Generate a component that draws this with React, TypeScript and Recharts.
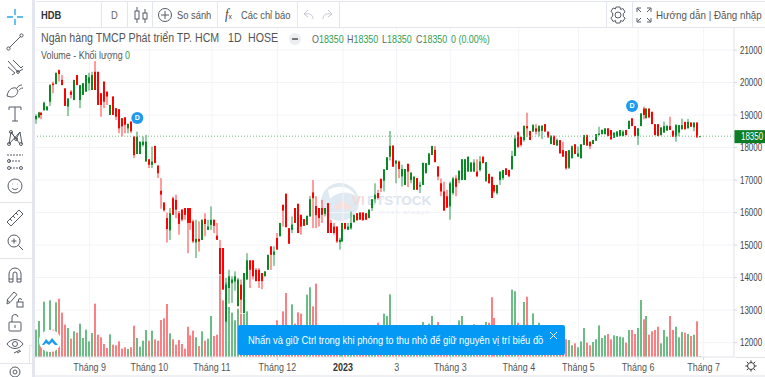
import { Bar, CartesianGrid, ComposedChart, ReferenceDot, ReferenceLine, XAxis, YAxis } from "recharts";

const opens = [
  18870, 18930, 19070, 19150, 19150, 19410, 19970, 19950, 20380, 20080,
  19820, 19260, 19720, 19460, 20230, 19460, 19620, 19720, 19980, 19770,
  20330, 20330, 19670, 20030, 19720, 19000, 19570, 19210, 19180, 18900,
  18930, 18590, 18800, 18340, 17800, 17800, 18080, 17570, 17640, 17470,
  18050, 17440, 16670, 16310, 15830, 15450, 16440, 16390, 15980, 16090,
  16140, 16140, 16140, 15730, 15080, 15190, 15160, 15800, 15470, 15620,
  15780, 15290, 14910, 14910, 12650, 13680, 13830, 13880, 13120, 13780,
  12910, 13940, 14530, 14530, 14240, 14240, 14140, 14040, 14240, 14960,
  14700, 15220, 15270, 16240, 16580, 15520, 15470, 16140, 16270, 15930,
  15800, 15620, 15880, 16620, 16200, 16140, 16140, 15960, 16290, 15680,
  15570, 15570, 15090, 15110, 15680, 15470, 15520, 15700, 15980, 16000,
  16000, 15980, 15830, 16140, 16410, 16600, 17040, 16980, 17310, 17720,
  18060, 17500, 17570, 17110, 16850, 17500, 17000, 16700, 17060, 16800,
  16850, 17210, 17470, 17770, 17930, 17420, 16900, 16650, 16500, 16190,
  16600, 17050, 17000, 17000, 17000, 17260, 17260, 17260, 17260, 17310,
  17720, 16960, 17190, 17100, 16850, 16600, 17000, 17060, 17360, 17310,
  17330, 17740, 18470, 18330, 18230, 18660, 18510, 18490, 18590, 18490,
  18510, 18720, 18490, 18110, 18350, 18060, 18230, 17920, 17890, 17380,
  17670, 18100, 17720, 17670, 18080, 18380, 18180, 18110, 18210, 18380,
  18410, 18410, 18590, 18540, 18300, 18330, 18350, 18350, 18540, 18570,
  18900, 18660, 18350, 18660, 19200, 18900, 19200, 19100, 18720, 18720,
  18380, 18460, 18520, 18660, 18520, 18330, 18460, 18560, 18790, 18590,
  18770, 18620, 18770, 18350,
];
const highs = [
  19020, 19100, 19100, 19410, 19280, 19950, 20030, 20300, 20400, 20230,
  19820, 19510, 19770, 20080, 20230, 19920, 19980, 20230, 20300, 20330,
  20660, 20330, 19670, 20030, 19720, 19310, 19570, 19210, 19180, 18900,
  18930, 18730, 18800, 18340, 18490, 18180, 18340, 18390, 17640, 18030,
  18050, 17470, 17060, 16310, 16000, 16140, 16490, 16550, 16050, 16110,
  16140, 16140, 16140, 15780, 15780, 15730, 15780, 15980, 15780, 16190,
  15780, 15680, 15160, 14910, 13990, 14240, 14040, 14190, 13990, 13940,
  14140, 14750, 14530, 14530, 14290, 14290, 14140, 14190, 14700, 14960,
  14960, 15370, 15680, 16240, 16580, 15520, 15880, 16140, 16270, 15930,
  15800, 15900, 16510, 17000, 16500, 16140, 16390, 16140, 16290, 15780,
  15680, 15570, 15220, 15680, 15680, 15680, 16030, 15930, 15980, 16000,
  16000, 15980, 16090, 16410, 16900, 16700, 17040, 17330, 17700, 18510,
  18060, 17600, 17600, 17470, 17340, 17500, 17230, 17120, 17060, 16950,
  17530, 17520, 17820, 18050, 18050, 17420, 17050, 16950, 16700, 16950,
  17100, 17150, 17290, 17640, 17640, 17720, 17540, 17640, 17640, 17740,
  17720, 17550, 17190, 17100, 16850, 16850, 17260, 17310, 17360, 17310,
  17900, 18380, 18500, 18330, 18670, 19070, 18510, 18720, 18720, 18690,
  18690, 18720, 18490, 18380, 18380, 18280, 18230, 18180, 17890, 17920,
  18060, 18100, 18030, 18100, 18390, 18400, 18180, 18230, 18410, 18640,
  18560, 18590, 18590, 18540, 18460, 18510, 18540, 18540, 18540, 18830,
  18900, 18660, 18600, 19050, 19260, 19200, 19200, 19100, 18720, 18720,
  18620, 18800, 18700, 18950, 18520, 18720, 18690, 18890, 18790, 18880,
  18770, 18770, 18770, 18350,
];
const lows = [
  18730, 18900, 18870, 19130, 19130, 19280, 19670, 19950, 20030, 19920,
  19280, 18970, 19510, 19460, 19920, 19210, 19620, 19720, 19750, 19770,
  19770, 19310, 18950, 19210, 19310, 19000, 19000, 18850, 18440, 18340,
  18440, 18440, 18440, 17670, 17800, 17800, 18030, 17570, 17370, 17370,
  17520, 17060, 16120, 16030, 15080, 15160, 15930, 15830, 15320, 15730,
  15780, 14750, 15470, 15060, 14600, 14800, 15160, 15270, 15470, 15470,
  15370, 15160, 14100, 13630, 12650, 13200, 13220, 13600, 13120, 12910,
  12910, 13940, 13680, 13940, 13890, 13680, 13640, 14040, 14240, 14240,
  14360, 14860, 15270, 15570, 15550, 15040, 15370, 15680, 15370, 15320,
  15590, 15620, 15880, 15520, 15520, 15570, 15680, 15880, 15370, 15370,
  15320, 15060, 14860, 15110, 15490, 15470, 15470, 15700, 15760, 15780,
  15760, 15780, 15830, 16050, 16290, 16400, 16630, 16650, 17310, 17600,
  17410, 16900, 17060, 16800, 16850, 16780, 16900, 16700, 16700, 16600,
  16850, 17210, 17470, 17770, 17550, 17000, 16500, 16050, 16150, 15780,
  16550, 16500, 16900, 17000, 17000, 17260, 17260, 17260, 17110, 17260,
  17520, 16960, 16900, 16450, 16600, 16550, 16850, 17000, 17160, 17110,
  17330, 17740, 17980, 18030, 18180, 18320, 18230, 18490, 18400, 18340,
  18260, 18490, 18310, 18100, 18080, 18060, 17820, 17720, 17320, 17340,
  17670, 17800, 17720, 17670, 18080, 18060, 17950, 18110, 18210, 18380,
  18410, 18410, 18350, 18250, 18300, 18330, 18350, 18350, 18380, 18570,
  18660, 18350, 18080, 18660, 18870, 18900, 18900, 18720, 18380, 18350,
  18380, 18460, 18520, 18540, 18330, 18180, 18350, 18560, 18560, 18590,
  18640, 18500, 18310, 18350,
];
const closes = [
  18970, 19080, 19000, 19380, 19260, 19920, 19920, 20300, 20260, 19920,
  19280, 19510, 19620, 20080, 19920, 19920, 19980, 20230, 20160, 20230,
  19770, 19310, 19310, 19410, 19570, 19310, 19000, 18950, 18590, 18650,
  18700, 18730, 18500, 17770, 18340, 18180, 18180, 18180, 17470, 17570,
  17520, 17210, 16550, 16070, 15490, 15980, 15930, 16090, 15650, 15780,
  15930, 15680, 15680, 15110, 15190, 15110, 15780, 15650, 15570, 15780,
  15590, 15160, 14100, 13630, 13780, 14040, 13940, 14040, 13940, 13320,
  14140, 14530, 14240, 14040, 13890, 13890, 13890, 14190, 14700, 14700,
  14800, 14860, 15680, 16060, 15550, 15040, 15630, 15680, 15370, 15570,
  15590, 15900, 16410, 16440, 15920, 15830, 15930, 16140, 15370, 15370,
  15370, 15110, 15160, 15680, 15490, 15570, 15680, 15930, 15760, 15780,
  15760, 15780, 16090, 16410, 16550, 16450, 16750, 17330, 17700, 18050,
  17410, 17600, 17340, 17340, 17340, 17260, 17230, 17100, 16700, 16850,
  17530, 17520, 17820, 18050, 17550, 17110, 16650, 16060, 16150, 16900,
  17050, 16790, 17290, 17640, 17640, 17720, 17540, 17540, 17110, 17570,
  17520, 17550, 16900, 16450, 16650, 16850, 17260, 17310, 17160, 17110,
  17740, 18280, 18020, 18080, 18670, 18590, 18230, 18690, 18490, 18660,
  18670, 18490, 18310, 18360, 18080, 18230, 17820, 17720, 17360, 17920,
  18040, 17800, 17820, 18100, 18380, 18060, 18040, 18230, 18410, 18430,
  18540, 18590, 18350, 18250, 18460, 18490, 18540, 18490, 18380, 18820,
  18660, 18350, 18590, 19050, 19000, 19200, 18930, 18720, 18380, 18350,
  18620, 18660, 18660, 18540, 18330, 18690, 18690, 18690, 18560, 18790,
  18640, 18770, 18310, 18350,
];
const volumes = [
  82, 108, 55, 166, 60, 170, 82, 164, 175, 133,
  97, 87, 55, 77, 73, 100, 57, 82, 47, 72,
  160, 67, 59, 39, 27, 68, 37, 35, 47, 25,
  29, 24, 29, 94, 57, 31, 49, 81, 49, 79,
  53, 49, 111, 116, 159, 71, 53, 37, 51, 39,
  25, 91, 65, 79, 59, 33, 77, 49, 55, 123,
  63, 67, 245, 170, 223, 150, 133, 110, 145, 130,
  130, 137, 80, 66, 72, 58, 44, 60, 77, 52,
  68, 110, 63, 137, 192, 75, 158, 100, 134, 130,
  85, 187, 209, 152, 220, 88, 70, 55, 62, 45,
  60, 52, 72, 70, 48, 62, 80, 55, 44, 60,
  48, 72, 62, 58, 42, 103, 70, 130, 123, 188,
  66, 50, 42, 71, 64, 52, 47, 38, 54, 60,
  105, 52, 100, 123, 66, 105, 74, 48, 55, 40,
  62, 80, 110, 123, 70, 55, 60, 98, 44, 72,
  58, 105, 103, 179, 117, 64, 48, 60, 75, 56,
  202, 197, 103, 70, 165, 181, 85, 131, 66, 103,
  78, 60, 88, 57, 72, 52, 66, 48, 53, 51,
  35, 41, 29, 47, 87, 43, 35, 45, 53, 95,
  57, 65, 69, 53, 65, 63, 61, 59, 43, 81,
  81, 69, 87, 171, 113, 123, 67, 77, 81, 91,
  41, 81, 61, 123, 81, 91, 59, 75, 73, 69,
  63, 67, 107, 2,
];

const priceTicks = [12000, 13000, 14000, 15000, 16000, 17000, 18000, 19000, 20000, 21000];
const monthTicks = [18, 38, 59, 81, 103, 121, 139, 162, 182, 202, 224];
const monthLabels = ["Tháng 9", "Tháng 10", "Tháng 11", "Tháng 12", "2023", "3", "Tháng 3", "Tháng 4", "Tháng 5", "Tháng 6", "Tháng 7"];
const lastPrice = 18350;
const dividendMarks = [
  { bar: 34, price: 18910 },
  { bar: 200, price: 19280 },
];

const chartData = opens.map((open, i) => ({
  i,
  open,
  close: closes[i],
  range: [lows[i], highs[i]],
  volume: volumes[i],
}));

const FONT = "'Liberation Sans', Arial, sans-serif";
const RED = "#ff0000";
const GREEN = "#0a8a25";
const ICON = "#555b66";
const SQUEEZE = 0.85;

function Candle(props: any) {
  const { x, y, height, payload } = props;
  const [low, high] = payload.range;
  const up = payload.close >= payload.open;
  const perUnit = high === low ? 0 : height / (high - low);
  const top = y + (high - Math.max(payload.open, payload.close)) * perUnit;
  const bodyH = Math.max(1, Math.abs(payload.close - payload.open) * perUnit);
  const left = Math.round(x);
  return (
    <g>
      <rect x={left + 0.5} y={y} width={1} height={Math.max(height, 1)} fill={up ? "#2f9a4c" : "#ff3a3a"} />
      <rect x={left} y={top} width={2} height={bodyH} fill={up ? GREEN : RED} />
    </g>
  );
}

function VolumeBar(props: any) {
  const { x, y, height, payload } = props;
  const up = payload.close >= payload.open;
  return <rect x={Math.round(x)} y={y} width={2} height={height} fill={up ? "#6cbd85" : "#fb8084"} />;
}

function MonthTick(props: any) {
  const { x, y, payload } = props;
  const label = monthLabels[monthTicks.indexOf(payload.value)];
  const isYear = label === "2023";
  return (
    <text
      transform={`translate(${x},${y + 9}) scale(${SQUEEZE},1)`}
      textAnchor="middle"
      fontSize={10.5}
      fontFamily={FONT}
      fontWeight={isYear ? 700 : 400}
      fill={isYear ? "#333" : "#555"}
    >
      {label}
    </text>
  );
}

function PriceTick(props: any) {
  const { x, y, payload } = props;
  return (
    <text transform={`translate(${x},${y + 3.5}) scale(0.76,1)`} fontSize={10.5} fontFamily={FONT} fill="#444">
      {payload.value}
    </text>
  );
}

function PriceTag(props: any) {
  const { viewBox } = props;
  const tagX = viewBox.x + viewBox.width;
  return (
    <g>
      <rect x={tagX} y={viewBox.y - 6} width={31} height={13} fill="#0b7d24" />
      <text transform={`translate(${tagX + 7},${viewBox.y + 4}) scale(0.76,1)`} fontSize={10.5} fontFamily={FONT} fill="#fff">
        {lastPrice}
      </text>
    </g>
  );
}

function Icon({ x, y, children, w = 20, h = 20 }: any) {
  return (
    <svg width={w} height={h} viewBox="0 0 20 20" style={{ position: "absolute", left: x - w / 2, top: y - h / 2 }} fill="none" stroke={ICON} strokeWidth={1}>
      {children}
    </svg>
  );
}

function Label({ x, y, size = 11, color = "#555", weight = 400, children }: any) {
  return (
    <div
      style={{
        position: "absolute",
        left: x,
        top: y,
        fontSize: size,
        color,
        fontWeight: weight,
        whiteSpace: "nowrap",
        lineHeight: "14px",
        transform: `scaleX(${SQUEEZE})`,
        transformOrigin: "left center",
      }}
    >
      {children}
    </div>
  );
}

function Rule({ x, y, w, h }: any) {
  return <div style={{ position: "absolute", left: x, top: y, width: w, height: h, background: "#e3e6ee" }} />;
}

function LeftToolbar() {
  return (
    <>
      <Icon x={15} y={17}>
        <path d="M10 2v6M10 12v6M2 10h6M12 10h6" stroke="#2aa7e8" strokeWidth={1.4} />
      </Icon>
      <Icon x={15} y={42}>
        <path d="M4 16L16 4" />
        <circle cx={3.5} cy={16.5} r={1.6} />
        <circle cx={16.5} cy={3.5} r={1.6} />
      </Icon>
      <Icon x={15} y={67}>
        <path d="M3 4l10 11M3 10l7 6M8 3l8 8M13 15l5-3M10 16l-3 2M16 11l2-2" />
        <circle cx={13} cy={15} r={1.4} />
      </Icon>
      <Icon x={15} y={91}>
        <path d="M2 15c1-6 5-9 9-8l2 3c-1 4-3 6-7 6zM12 7c1-2 3-3 5-3M14 9c1-1 2-2 4-2" />
      </Icon>
      <Icon x={15} y={114}>
        <path d="M4 6V3h12v3M10 3v14M7 17h6" />
      </Icon>
      <Icon x={15} y={138}>
        <path d="M4 16L6 4l5 7 4-7 2 12M6 4l9 12M15 4L4 16" />
        <circle cx={4} cy={16} r={1.5} />
        <circle cx={6} cy={4} r={1.5} />
        <circle cx={11} cy={11} r={1.5} />
        <circle cx={16} cy={16} r={1.5} />
      </Icon>
      <Icon x={15} y={162}>
        <path d="M2 3h16M5 16h10M4 9h12" strokeDasharray="2 1" />
        <circle cx={4} cy={16} r={1.5} />
        <circle cx={16} cy={16} r={1.5} />
        <circle cx={4} cy={9} r={1.5} />
      </Icon>
      <Icon x={15} y={186}>
        <circle cx={10} cy={10} r={7} />
        <path d="M7 12c1.5 2 4.5 2 6 0M7.5 8h.5M12 8h.5" />
      </Icon>
      <Icon x={15} y={218}>
        <path d="M2 14L14 2l4 4L6 18zM5 11l2 2M8 8l2 2M11 5l2 2" />
      </Icon>
      <Icon x={15} y={242}>
        <circle cx={9} cy={9} r={6} />
        <path d="M13.5 13.5L18 18M6.5 9h5M9 6.5v5" />
      </Icon>
      <Icon x={15} y={275}>
        <path d="M4 17V9a6 6 0 0 1 12 0v8h-4V9a2 2 0 0 0-4 0v8zM4 14h4M12 14h4" />
      </Icon>
      <Icon x={15} y={299}>
        <path d="M2 11l7-8 3 2.5-7 8zM5 13.5L2 15l.5-4" />
        <rect x={12} y={13} width={6} height={5} />
        <path d="M13.5 13v-2a1.5 1.5 0 0 1 3 0" />
      </Icon>
      <Icon x={15} y={323}>
        <rect x={4} y={9} width={12} height={9} rx={1} />
        <path d="M7 9V5a3 3 0 0 1 6-1M10 12v3" />
      </Icon>
      <Icon x={15} y={346}>
        <path d="M2 8c4-6 12-6 16 0-4 6-12 6-16 0z" />
        <circle cx={10} cy={8} r={2.5} />
        <path d="M9 17l6-3M12 17l4-2" />
      </Icon>
      <Icon x={15} y={372}>
        <circle cx={10} cy={10} r={5} />
        <circle cx={10} cy={10} r={2} />
      </Icon>
      <div style={{ position: "absolute", left: 29, top: 345, width: 4, height: 17, background: "#fff", border: "1px solid #e3e6ee", borderRadius: "0 3px 3px 0" }} />
    </>
  );
}

function TopToolbar() {
  return (
    <>
      <Label x={41} y={8} size={11} color="#333" weight={700}>HDB</Label>
      <Label x={111} y={8} size={11} color="#666">D</Label>
      <Icon x={141} y={15}>
        <path d="M6 2v16M14 4v14" />
        <rect x={4} y={6} width={4} height={8} fill="#fff" />
        <rect x={12} y={8} width={4} height={6} fill="#fff" />
      </Icon>
      <Icon x={165} y={15}>
        <circle cx={10} cy={10} r={6.5} />
        <path d="M10 6v8M6 10h8" />
      </Icon>
      <Label x={177} y={8} size={11}>So sánh</Label>
      <Label x={225} y={7} size={15} color="#444">
        <span style={{ fontFamily: "'Liberation Serif', serif", fontStyle: "italic" }}>f</span>
        <span style={{ fontSize: 8 }}>x</span>
      </Label>
      <Label x={241} y={8} size={11}>Các chỉ báo</Label>
      <Icon x={309} y={15}>
        <path d="M14 14c0-4-3-6-8-5M9 5L5 9l4 3" stroke="#c4c8d0" />
      </Icon>
      <Icon x={327} y={15}>
        <path d="M6 14c0-4 3-6 8-5M11 5l4 4-4 3" stroke="#c4c8d0" />
      </Icon>
      <Icon x={618} y={15}>
        <circle cx={10} cy={10} r={3} />
        <path d="M8 2h4l.6 2.500 2.300-1 2.200 3.500-1.800 1.500v3l1.800 1.500-2.200 3.500-2.300-1-.6 2.500H8l-.6-2.500-2.300 1-2.200-3.500L4.700 11V8L2.900 6.500l2.200-3.500 2.300 1z" />
      </Icon>
      <Icon x={644} y={15}>
        <path d="M3 7V3h4M13 3h4v4M17 13v4h-4M7 17H3v-4M3.500 3.500l3.500 3.500M16.500 3.500L13 7M16.500 16.500L13 13M3.500 16.500L7 13" />
      </Icon>
      <Label x={656} y={8} size={11.5}>Hướng dẫn | Đăng nhập</Label>
      <Rule x={36} y={1} w={729} h={1} />
      <Rule x={36} y={27} w={729} h={1} />
      {[101, 127, 152, 217, 297, 339, 606, 632].map((x) => (
        <Rule key={x} x={x} y={2} w={1} h={25} />
      ))}
    </>
  );
}

function Watermark() {
  return (
    <svg width={140} height={60} style={{ position: "absolute", left: 320, top: 178 }}>
      <circle cx={20} cy={24} r={19} fill="#dfe9f2" />
      <path d="M8 12c10-6 22-4 28 6-8-5-18-5-26 3z" fill="#fff" />
      <path d="M14 30l8-8 10 8-6 2-4-3-4 3z" fill="#f8dfdc" />
      <text x={32} y={27} fontSize={13.5} fontWeight={700} fontFamily={FONT} fill="#f6d9d6">VI</text>
      <text x={47} y={27} fontSize={13.5} fontWeight={700} fontFamily={FONT} fill="#dbe5ef">ETSTOCK</text>
      <text x={60} y={36} fontSize={6} fontFamily={FONT} fill="#e3e9f0" letterSpacing={1.4}>fresh always</text>
    </svg>
  );
}

export default function App() {
  return (
    <div style={{ position: "absolute", left: 0, top: 0, width: 765, height: 377, overflow: "hidden", background: "#fff", fontFamily: FONT }}>
      <Watermark />
      <div style={{ position: "absolute", left: 0, top: 0 }}>
        <ComposedChart width={765} height={377} data={chartData} margin={{ top: 28, right: 0, bottom: 0, left: 35 }}>
          <CartesianGrid stroke="#f3f4f7" horizontalValues={priceTicks} verticalValues={monthTicks} xAxisId="price" yAxisId="price" />
          <XAxis xAxisId="vol" dataKey="i" type="number" domain={[-0.34, 234.2]} hide allowDataOverflow />
          <XAxis
            xAxisId="price"
            dataKey="i"
            type="number"
            domain={[-0.34, 234.2]}
            ticks={monthTicks}
            interval={0}
            height={20}
            tick={<MonthTick />}
            tickLine={{ stroke: "#d5d8e0" }}
            tickSize={3}
            axisLine={{ stroke: "#e0e3eb" }}
            allowDataOverflow
          />
          <YAxis yAxisId="vol" domain={[0, 987]} hide allowDataOverflow />
          <YAxis
            yAxisId="price"
            orientation="right"
            width={31}
            domain={[11557, 21677]}
            ticks={priceTicks}
            interval={0}
            tick={<PriceTick />}
            tickLine={{ stroke: "#d5d8e0" }}
            tickSize={3}
            tickMargin={3}
            axisLine={{ stroke: "#e0e3eb" }}
            allowDataOverflow
          />
          <Bar xAxisId="vol" yAxisId="vol" dataKey="volume" barSize={2} shape={<VolumeBar />} isAnimationActive={false} />
          <Bar xAxisId="price" yAxisId="price" dataKey="range" barSize={2} shape={<Candle />} isAnimationActive={false} />
          <ReferenceLine xAxisId="price" yAxisId="price" y={lastPrice} stroke="#6cbd7f" strokeDasharray="1 2" label={<PriceTag />} />
          {dividendMarks.map((m) => (
            <ReferenceDot
              key={m.bar}
              xAxisId="price"
              yAxisId="price"
              x={m.bar}
              y={m.price}
              r={6}
              fill="#1e9bf0"
              stroke="none"
              label={{ value: "D", position: "center", fill: "#fff", fontSize: 7, fontWeight: 700, fontFamily: FONT }}
            />
          ))}
        </ComposedChart>
      </div>

      <LeftToolbar />
      <Rule x={0} y={202} w={32} h={1} />
      <Rule x={0} y={258} w={32} h={1} />
      <Rule x={0} y={363} w={32} h={1} />
      <div style={{ position: "absolute", left: 32, top: 0, width: 3, height: 377, background: "#e3e6ee" }} />
      <TopToolbar />

      <Label x={41} y={31} size={12.5} color="#555">Ngân hàng TMCP Phát triển TP. HCM</Label>
      <Label x={228} y={31} size={12.5} color="#555">1D</Label>
      <Label x={248} y={31} size={12.5} color="#555">HOSE</Label>
      <div style={{ position: "absolute", left: 289, top: 33, width: 12, height: 12, borderRadius: 6, background: "#eceef2" }} />
      <div style={{ position: "absolute", left: 292, top: 38, width: 6, height: 2, background: "#777" }} />
      <Label x={312} y={32} size={10.5} color="#666">O<span style={{ color: "#2f9e4f" }}>18350</span></Label>
      <Label x={347} y={32} size={10.5} color="#666">H<span style={{ color: "#2f9e4f" }}>18350</span></Label>
      <Label x={382} y={32} size={10.5} color="#666">L<span style={{ color: "#2f9e4f" }}>18350</span></Label>
      <Label x={416} y={32} size={10.5} color="#666">C<span style={{ color: "#2f9e4f" }}>18350</span></Label>
      <Label x={451} y={32} size={10.5} color="#2f9e4f">0 (0.00%)</Label>
      <Label x={41} y={48} size={10.5} color="#555">Volume - Khối lượng</Label>
      <Label x={125} y={48} size={10.5} color="#2f9e4f">0</Label>

      <svg width={24} height={24} style={{ position: "absolute", left: 38, top: 329 }}>
        <circle cx={12} cy={12} r={11} fill="#fff" />
        <path d="M4 16l4-6 3 3 3-4 6 7-3 0-3-3-3 3-3-2-2 2z" fill="#1e9bf0" />
      </svg>

      <div style={{ position: "absolute", left: 238, top: 325, width: 327, height: 30, background: "#0399f5", borderRadius: 2 }}>
        <div style={{ position: "absolute", left: 10, top: 8, fontSize: 11, color: "#fff", whiteSpace: "nowrap", lineHeight: "14px", transform: "scaleX(0.85)", transformOrigin: "left center" }}>
          Nhấn và giữ Ctrl trong khi phóng to thu nhỏ để giữ nguyên vị trí biểu đồ
        </div>
        <svg width={10} height={10} style={{ position: "absolute", left: 311, top: 6 }}>
          <path d="M1 1l7 7M8 1L1 8" stroke="#fff" />
        </svg>
      </div>

      <Rule x={735} y={357} w={30} h={1} />
      <Icon x={751} y={366} w={14} h={14}>
        <circle cx={10} cy={10} r={5} stroke="#333" strokeWidth={1.4} />
        <path d="M10 2v3M10 15v3M2 10h3M15 10h3M4 4l2 2M14 14l2 2M4 16l2-2M14 6l2-2" stroke="#333" strokeWidth={1.4} />
      </Icon>
      <div style={{ position: "absolute", left: 35, top: 375, width: 730, height: 2, background: "#eef0f3" }} />
    </div>
  );
}
